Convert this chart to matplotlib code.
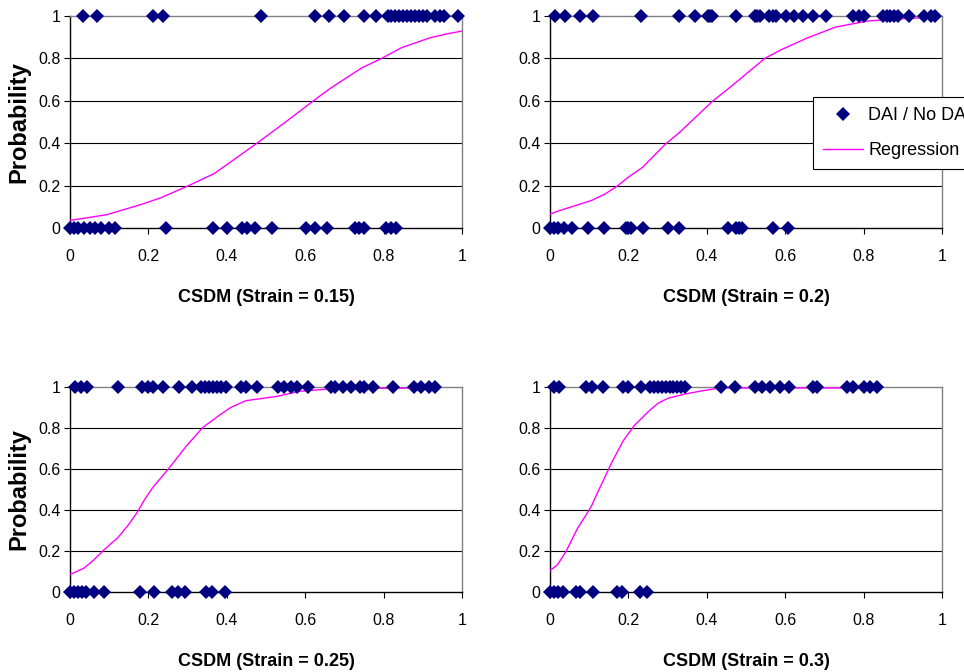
import matplotlib
matplotlib.use("Agg")
import matplotlib.pyplot as plt

plt.rcParams['font.family'] = ['Liberation Sans', 'DejaVu Sans']

# CSDM values of the observed cases (1 = DAI, 0 = no DAI), one pair of lists per strain level
s15_dai = [0.033, 0.068, 0.212, 0.238, 0.487, 0.626, 0.66, 0.698, 0.751, 0.78,
           0.81, 0.82, 0.83, 0.84, 0.85, 0.86, 0.87, 0.88, 0.89, 0.90, 0.91,
           0.93, 0.944, 0.954, 0.99]
s15_nodai = [0.0, 0.01, 0.02, 0.035, 0.05, 0.065, 0.08, 0.1, 0.116, 0.246, 0.366,
             0.40, 0.438, 0.452, 0.473, 0.516, 0.603, 0.626, 0.655, 0.727, 0.737,
             0.751, 0.805, 0.818, 0.831]

s20_dai = [0.014, 0.038, 0.077, 0.109, 0.232, 0.33, 0.371, 0.403, 0.408, 0.414,
           0.475, 0.522, 0.529, 0.536, 0.559, 0.568, 0.577, 0.603, 0.623, 0.646,
           0.672, 0.704, 0.772, 0.788, 0.801, 0.849, 0.859, 0.868, 0.878, 0.888,
           0.917, 0.954, 0.971, 0.983]
s20_nodai = [0.0, 0.01, 0.02, 0.035, 0.055, 0.096, 0.139, 0.193, 0.2, 0.207, 0.236,
             0.301, 0.328, 0.454, 0.475, 0.482, 0.49, 0.57, 0.606]

s25_dai = [0.014, 0.029, 0.043, 0.123, 0.184, 0.198, 0.212, 0.236, 0.277, 0.311,
           0.335, 0.345, 0.355, 0.365, 0.375, 0.385, 0.397, 0.435, 0.448, 0.477,
           0.53, 0.545, 0.564, 0.578, 0.608, 0.665, 0.675, 0.697, 0.718, 0.74,
           0.749, 0.773, 0.824, 0.877, 0.896, 0.915, 0.932]
s25_nodai = [0.0, 0.01, 0.02, 0.03, 0.04, 0.062, 0.087, 0.178, 0.214, 0.26, 0.275,
             0.293, 0.348, 0.363, 0.395]

s30_dai = [0.009, 0.023, 0.091, 0.106, 0.135, 0.186, 0.2, 0.232, 0.255, 0.265,
           0.275, 0.285, 0.295, 0.305, 0.315, 0.325, 0.335, 0.345, 0.435, 0.472,
           0.522, 0.541, 0.562, 0.588, 0.609, 0.671, 0.681, 0.758, 0.772, 0.801,
           0.816, 0.835]
s30_nodai = [0.0, 0.01, 0.02, 0.033, 0.067, 0.077, 0.109, 0.171, 0.183, 0.229, 0.248]

# regression curves
s15_reg_x = [0.0, 0.05, 0.094, 0.123, 0.18, 0.231, 0.303, 0.368, 0.42, 0.477, 0.55,
             0.621, 0.665, 0.744, 0.795, 0.845, 0.918, 0.96, 1.0]
s15_reg_y = [0.036, 0.05, 0.063, 0.079, 0.11, 0.142, 0.20, 0.257, 0.325, 0.40, 0.50,
             0.60, 0.66, 0.755, 0.80, 0.85, 0.897, 0.915, 0.929]
s20_reg_x = [0.0, 0.019, 0.055, 0.106, 0.14, 0.171, 0.2, 0.236, 0.294, 0.33, 0.37,
             0.414, 0.45, 0.483, 0.548, 0.591, 0.657, 0.729, 0.809, 0.867, 0.983]
s20_reg_y = [0.065, 0.079, 0.10, 0.13, 0.16, 0.197, 0.24, 0.286, 0.395, 0.45, 0.52,
             0.597, 0.65, 0.70, 0.80, 0.842, 0.897, 0.948, 0.976, 0.984, 0.995]
s25_reg_x = [0.0, 0.036, 0.06, 0.087, 0.123, 0.15, 0.173, 0.19, 0.21, 0.253, 0.296,
             0.339, 0.383, 0.41, 0.448, 0.527, 0.585, 0.672, 0.932]
s25_reg_y = [0.085, 0.117, 0.155, 0.206, 0.267, 0.33, 0.393, 0.45, 0.507, 0.605, 0.71,
             0.803, 0.865, 0.9, 0.933, 0.954, 0.979, 0.992, 0.995]
s30_reg_x = [0.0, 0.019, 0.041, 0.07, 0.09, 0.106, 0.12, 0.135, 0.157, 0.186, 0.214,
             0.251, 0.275, 0.301, 0.345, 0.39, 0.432, 0.835]
s30_reg_y = [0.104, 0.133, 0.198, 0.31, 0.37, 0.42, 0.48, 0.54, 0.63, 0.735, 0.81,
             0.88, 0.92, 0.945, 0.966, 0.982, 0.995, 0.995]

strain_labels = ['0.15', '0.2', '0.25', '0.3']
ticks = [0, 0.2, 0.4, 0.6, 0.8, 1]
tick_labels = ['0', '0.2', '0.4', '0.6', '0.8', '1']

panels = [
    (s15_dai, s15_nodai, s15_reg_x, s15_reg_y),
    (s20_dai, s20_nodai, s20_reg_x, s20_reg_y),
    (s25_dai, s25_nodai, s25_reg_x, s25_reg_y),
    (s30_dai, s30_nodai, s30_reg_x, s30_reg_y),
]

W, H = 964, 672
fig = plt.figure(figsize=(W / 100, H / 100), dpi=100)
fig.patch.set_facecolor('white')

# axes boxes in pixels: left, top, right, bottom
boxes = [(70, 16, 462, 228), (550, 16, 942, 228),
         (70, 387, 462, 592), (550, 387, 942, 592)]

navy = '#000080'
magenta = '#FF00FF'

axes = []
for i, (dai, nodai, rx, ry) in enumerate(panels):
    l, t, r, b = boxes[i]
    ax = fig.add_axes([l / W, 1 - b / H, (r - l) / W, (b - t) / H])
    axes.append(ax)
    ax.set_xlim(0, 1)
    ax.set_ylim(0, 1)
    for y in ticks[1:-1]:
        ax.axhline(y, color='black', lw=0.8, zorder=1)
    pts_x = dai + nodai
    pts_y = [1] * len(dai) + [0] * len(nodai)
    ax.plot(pts_x, pts_y, 'D', color=navy, markersize=7.5, markeredgewidth=0,
            clip_on=False, zorder=4, label='DAI / No DAI')
    ax.plot(rx, ry, color=magenta, lw=1.0, zorder=3, label='Regression')

    ax.set_xticks(ticks)
    ax.set_xticklabels(tick_labels)
    ax.set_yticks(ticks)
    ax.set_yticklabels(tick_labels)
    ax.tick_params(axis='x', direction='out', length=4, width=0.8, pad=11, labelsize=11.5)
    ax.tick_params(axis='y', direction='out', length=4, width=0.8, pad=3, labelsize=11.5)
    ax.spines['left'].set_color('black')
    ax.spines['bottom'].set_color('black')
    ax.spines['top'].set_color('#808080')
    ax.spines['right'].set_color('#808080')
    for s in ax.spines.values():
        s.set_linewidth(1.0)

    ax.set_xlabel('CSDM (Strain = %s)' % strain_labels[i], fontsize=13,
                  fontweight='bold', va='center')
    ax.xaxis.set_label_coords(0.5, -(69 / (b - t)))
    if i % 2 == 0:
        ax.set_ylabel('Probability', fontsize=17, fontweight='bold', va='center')
        ax.yaxis.set_label_coords(-51 / (r - l), 0.5)

# the legend runs past the right edge of the figure, as in the original
leg = axes[1].legend(loc='upper left', bbox_to_anchor=(813 / W, 1 - 97 / H),
                     bbox_transform=fig.transFigure, borderaxespad=0, fontsize=13,
                     frameon=True, fancybox=False, edgecolor='black', framealpha=1,
                     handlelength=2.2, handletextpad=0.3, labelspacing=1.0,
                     borderpad=0.55)
leg.get_frame().set_linewidth(0.8)

fig.savefig('out.png', dpi=100)
